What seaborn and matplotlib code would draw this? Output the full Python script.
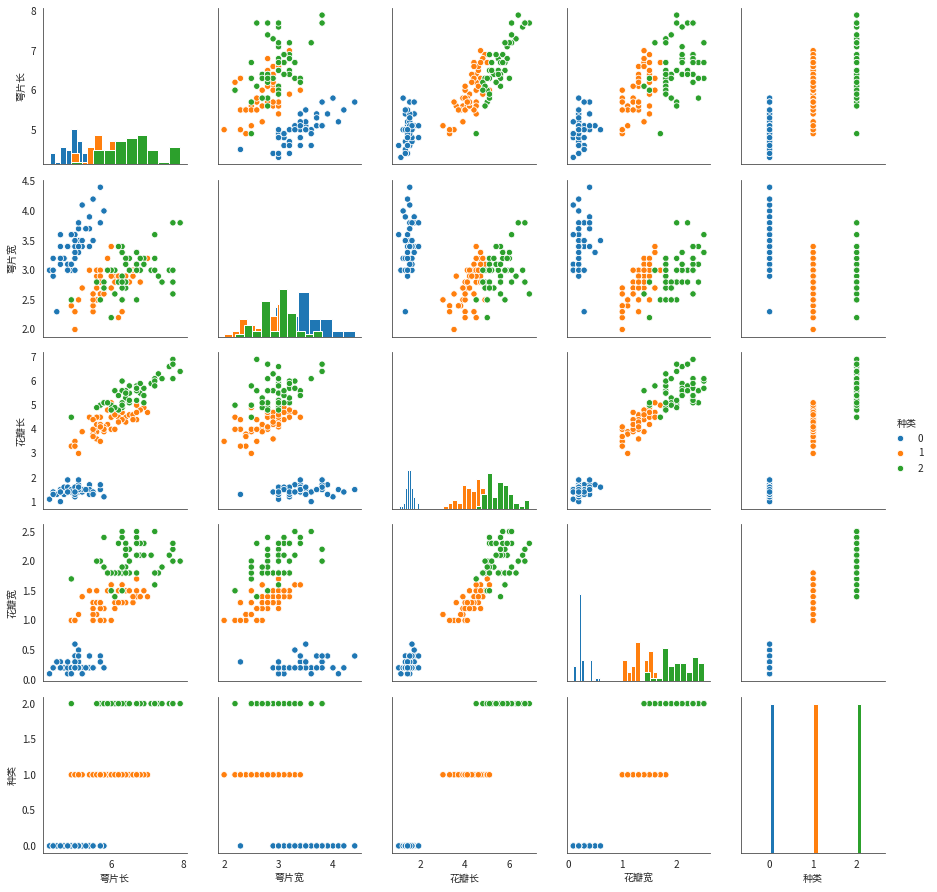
import pandas as pd
import numpy as np
import matplotlib
matplotlib.use("Agg")
import matplotlib.pyplot as plt
import seaborn as sns

# ── data (iris, as shown in the chart) ───────────────────────────────────────
sepal_len = [
    5.1, 4.9, 4.7, 4.6, 5.0, 5.4, 4.6, 5.0, 4.4, 4.9, 5.4, 4.8, 4.8, 4.3, 5.8, 5.7, 5.4, 5.1, 5.7, 5.1,
    5.4, 5.1, 4.6, 5.1, 4.8, 5.0, 5.0, 5.2, 5.2, 4.7, 4.8, 5.4, 5.2, 5.5, 4.9, 5.0, 5.5, 4.9, 4.4, 5.1,
    5.0, 4.5, 4.4, 5.0, 5.1, 4.8, 5.1, 4.6, 5.3, 5.0,
    7.0, 6.4, 6.9, 5.5, 6.5, 5.7, 6.3, 4.9, 6.6, 5.2, 5.0, 5.9, 6.0, 6.1, 5.6, 6.7, 5.6, 5.8, 6.2, 5.6,
    5.9, 6.1, 6.3, 6.1, 6.4, 6.6, 6.8, 6.7, 6.0, 5.7, 5.5, 5.5, 5.8, 6.0, 5.4, 6.0, 6.7, 6.3, 5.6, 5.5,
    5.5, 6.1, 5.8, 5.0, 5.6, 5.7, 5.7, 6.2, 5.1, 5.7,
    6.3, 5.8, 7.1, 6.3, 6.5, 7.6, 4.9, 7.3, 6.7, 7.2, 6.5, 6.4, 6.8, 5.7, 5.8, 6.4, 6.5, 7.7, 7.7, 6.0,
    6.9, 5.6, 7.7, 6.3, 6.7, 7.2, 6.2, 6.1, 6.4, 7.2, 7.4, 7.9, 6.4, 6.3, 6.1, 7.7, 6.3, 6.4, 6.0, 6.9,
    6.7, 6.9, 5.8, 6.8, 6.7, 6.7, 6.3, 6.5, 6.2, 5.9,
]
sepal_wid = [
    3.5, 3.0, 3.2, 3.1, 3.6, 3.9, 3.4, 3.4, 2.9, 3.1, 3.7, 3.4, 3.0, 3.0, 4.0, 4.4, 3.9, 3.5, 3.8, 3.8,
    3.4, 3.7, 3.6, 3.3, 3.4, 3.0, 3.4, 3.5, 3.4, 3.2, 3.1, 3.4, 4.1, 4.2, 3.1, 3.2, 3.5, 3.6, 3.0, 3.4,
    3.5, 2.3, 3.2, 3.5, 3.8, 3.0, 3.8, 3.2, 3.7, 3.3,
    3.2, 3.2, 3.1, 2.3, 2.8, 2.8, 3.3, 2.4, 2.9, 2.7, 2.0, 3.0, 2.2, 2.9, 2.9, 3.1, 3.0, 2.7, 2.2, 2.5,
    3.2, 2.8, 2.5, 2.8, 2.9, 3.0, 2.8, 3.0, 2.9, 2.6, 2.4, 2.4, 2.7, 2.7, 3.0, 3.4, 3.1, 2.3, 3.0, 2.5,
    2.6, 3.0, 2.6, 2.3, 2.7, 3.0, 2.9, 2.9, 2.5, 2.8,
    3.3, 2.7, 3.0, 2.9, 3.0, 3.0, 2.5, 2.9, 2.5, 3.6, 3.2, 2.7, 3.0, 2.5, 2.8, 3.2, 3.0, 3.8, 2.6, 2.2,
    3.2, 2.8, 2.8, 2.7, 3.3, 3.2, 2.8, 3.0, 2.8, 3.0, 2.8, 3.8, 2.8, 2.8, 2.6, 3.0, 3.4, 3.1, 3.0, 3.1,
    3.1, 3.1, 2.7, 3.2, 3.3, 3.0, 2.5, 3.0, 3.4, 3.0,
]
petal_len = [
    1.4, 1.4, 1.3, 1.5, 1.4, 1.7, 1.4, 1.5, 1.4, 1.5, 1.5, 1.6, 1.4, 1.1, 1.2, 1.5, 1.3, 1.4, 1.7, 1.5,
    1.7, 1.5, 1.0, 1.7, 1.9, 1.6, 1.6, 1.5, 1.4, 1.6, 1.6, 1.5, 1.5, 1.4, 1.5, 1.2, 1.3, 1.4, 1.3, 1.5,
    1.3, 1.3, 1.3, 1.6, 1.9, 1.4, 1.6, 1.4, 1.5, 1.4,
    4.7, 4.5, 4.9, 4.0, 4.6, 4.5, 4.7, 3.3, 4.6, 3.9, 3.5, 4.2, 4.0, 4.7, 3.6, 4.4, 4.5, 4.1, 4.5, 3.9,
    4.8, 4.0, 4.9, 4.7, 4.3, 4.4, 4.8, 5.0, 4.5, 3.5, 3.8, 3.7, 3.9, 5.1, 4.5, 4.5, 4.7, 4.4, 4.1, 4.0,
    4.4, 4.6, 4.0, 3.3, 4.2, 4.2, 4.2, 4.3, 3.0, 4.1,
    6.0, 5.1, 5.9, 5.6, 5.8, 6.6, 4.5, 6.3, 5.8, 6.1, 5.1, 5.3, 5.5, 5.0, 5.1, 5.3, 5.5, 6.7, 6.9, 5.0,
    5.7, 4.9, 6.7, 4.9, 5.7, 6.0, 4.8, 4.9, 5.6, 5.8, 6.1, 6.4, 5.6, 5.1, 5.6, 6.1, 5.6, 5.5, 4.8, 5.4,
    5.6, 5.1, 5.1, 5.9, 5.7, 5.2, 5.0, 5.2, 5.4, 5.1,
]
petal_wid = [
    0.2, 0.2, 0.2, 0.2, 0.2, 0.4, 0.3, 0.2, 0.2, 0.1, 0.2, 0.2, 0.1, 0.1, 0.2, 0.4, 0.4, 0.3, 0.3, 0.3,
    0.2, 0.4, 0.2, 0.5, 0.2, 0.2, 0.4, 0.2, 0.2, 0.2, 0.2, 0.4, 0.1, 0.2, 0.2, 0.2, 0.2, 0.1, 0.2, 0.2,
    0.3, 0.3, 0.2, 0.6, 0.4, 0.3, 0.2, 0.2, 0.2, 0.2,
    1.4, 1.5, 1.5, 1.3, 1.5, 1.3, 1.6, 1.0, 1.3, 1.4, 1.0, 1.5, 1.0, 1.4, 1.3, 1.4, 1.5, 1.0, 1.5, 1.1,
    1.8, 1.3, 1.5, 1.2, 1.3, 1.4, 1.4, 1.7, 1.5, 1.0, 1.1, 1.0, 1.2, 1.6, 1.5, 1.6, 1.5, 1.3, 1.3, 1.3,
    1.2, 1.4, 1.2, 1.0, 1.3, 1.2, 1.3, 1.3, 1.1, 1.3,
    2.5, 1.9, 2.1, 1.8, 2.2, 2.1, 1.7, 1.8, 1.8, 2.5, 2.0, 1.9, 2.1, 2.0, 2.4, 2.3, 1.8, 2.2, 2.3, 1.5,
    2.3, 2.0, 2.0, 1.8, 2.1, 1.8, 1.8, 1.8, 2.1, 1.6, 1.9, 2.0, 2.2, 1.5, 1.4, 2.3, 2.4, 1.8, 1.8, 2.1,
    2.4, 2.3, 1.9, 2.3, 2.5, 2.3, 1.9, 2.0, 2.3, 1.8,
]
species = [0] * 50 + [1] * 50 + [2] * 50

columns = ["萼片长", "萼片宽", "花瓣长", "花瓣宽", "种类"]
colors = ["#1f77b4", "#ff7f0e", "#2ca02c"]
sepal_len_ticks = [6, 8]

df = pd.DataFrame({
    "萼片长": sepal_len,
    "萼片宽": sepal_wid,
    "花瓣长": petal_len,
    "花瓣宽": petal_wid,
    "种类": species,
})

# ── style ────────────────────────────────────────────────────────────────────
sns.set_style("white")
plt.rcParams["font.family"] = ["Noto Sans CJK SC", "DejaVu Sans"]
plt.rcParams["axes.unicode_minus"] = False
plt.rcParams["font.size"] = 10
plt.rcParams["axes.labelsize"] = 10
plt.rcParams["xtick.labelsize"] = 10
plt.rcParams["ytick.labelsize"] = 10
plt.rcParams["axes.edgecolor"] = "#444444"

# ── pair grid ────────────────────────────────────────────────────────────────
g = sns.PairGrid(df, vars=columns, hue="种类", palette=colors, height=2.5)
g.map_diag(plt.hist, edgecolor="white", linewidth=1)
g.map_offdiag(sns.scatterplot, s=40, edgecolor="white", linewidth=0.8)
g.add_legend(title="种类")

# first column only shows 6 and 8 on its x axis
g.axes[-1, 0].set_xticks(sepal_len_ticks)

fig = g.figure
fig.set_size_inches(937 / 72, 892 / 72)
fig.subplots_adjust(left=43 / 937, right=885 / 937, top=1 - 8 / 892,
                    bottom=1 - 853 / 892, wspace=0.215, hspace=0.1)
g._legend.set_bbox_to_anchor((0.995, 0.5), transform=fig.transFigure)

fig.savefig("out.png", dpi=72)
